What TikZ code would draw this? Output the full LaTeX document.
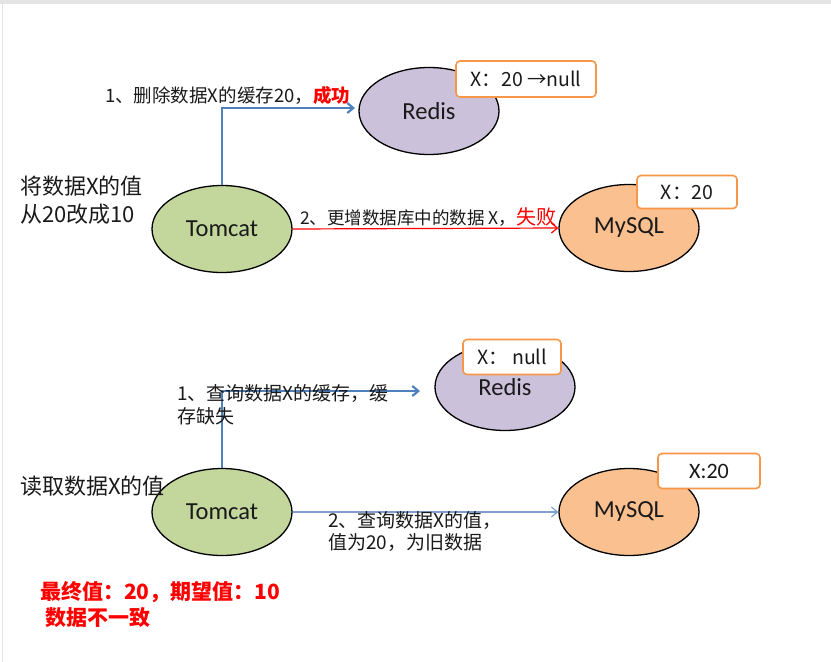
\documentclass[tikz,border=0pt]{standalone}
\usepackage{fontspec}
\setmainfont{Noto Sans CJK SC}
\newfontfamily\lat{Carlito}
\usetikzlibrary{arrows.meta,shapes.geometric}
\definecolor{tomfill}{HTML}{C3D69B}
\definecolor{redfill}{HTML}{CCC1DA}
\definecolor{myfill}{HTML}{FAC090}
\definecolor{boxedge}{HTML}{F79646}
\definecolor{arrblue}{HTML}{4F81BD}
\definecolor{lblue}{HTML}{7F9FCF}
\definecolor{topgray}{HTML}{E4E4E4}
\definecolor{txt}{HTML}{1A1A1A}
\tikzset{
  x=1pt,y=-1pt,
  ell/.style={ellipse,draw=black,line width=1.3pt,minimum width=140pt,minimum height=87pt,inner sep=0pt,font=\lat\fontsize{24.5}{26}\selectfont,text=txt},
  valbox/.style={draw=boxedge,line width=1.6pt,rounded corners=4pt,fill=white,inner sep=0pt,font=\fontsize{19.5}{21}\selectfont,text=txt},
  lbl/.style={anchor=base west,inner sep=0pt,text=txt,align=left},
  big/.style={anchor=base west,inner sep=0pt,font=\fontsize{22}{28}\selectfont,text=txt,align=left},
  bluearrow/.style={draw=arrblue,line width=2.2pt,-{Straight Barb[length=6pt,width=10pt]}},
  thinblue/.style={draw=lblue,line width=1.2pt,-{Straight Barb[length=6pt,width=10pt]}},
  redarrow/.style={draw=red,line width=1.2pt,-{Straight Barb[length=6pt,width=10pt]}},
}
\begin{document}
\begin{tikzpicture}
\useasboundingbox (0,0) rectangle (831,662);
\fill[white] (0,0) rectangle (831,662);
\fill[topgray] (0,0) rectangle (831,4);
\draw[topgray,line width=1pt] (2,4) -- (2,662);

% ---------- top scenario ----------
\node[ell,fill=tomfill] (tom1) at (222,229) {Tomcat};
\node[ell,fill=redfill] (redis1) at (429,111) {Redis};
\node[ell,fill=myfill] (my1) at (629,228) {MySQL};
\node[valbox,minimum width=140pt,minimum height=36pt] (b1) at (526,79) {X：20 →null};
\node[valbox,minimum width=100pt,minimum height=33pt] (b2) at (687,192) {X：20};

\coordinate (c1) at (tom1.north |- 0,108);
\draw[bluearrow] (tom1.north) -- (c1) -- (355,108);
\draw[redarrow] (tom1.east) -- (my1.west);

\node[lbl,font=\fontsize{18.5}{22}\selectfont] (l1) at (105,102) {1、删除数据X的缓存20，{\color{red}\bfseries 成功}};
\node[lbl,font=\fontsize{17.5}{22}\selectfont] (l2) at (300,224) {2、更增数据库中的数据 X，{\color{red}\fontsize{20}{22}\selectfont 失败}};
\node[big] (t1) at (20,222) {将数据X的值\\从20改成10};

% ---------- bottom scenario ----------
\node[ell,fill=redfill] (redis2) at (505,387) {Redis};
\node[valbox,minimum width=98pt,minimum height=35pt] (b3) at (512,357) {X：\ null};
\node[ell,fill=tomfill] (tom2) at (222,512) {Tomcat};
\node[ell,fill=myfill] (my2) at (629,512) {MySQL};
\node[valbox,minimum width=102pt,minimum height=35pt,font=\lat\fontsize{22}{24}\selectfont] (b4) at (709,471) {X:20};

\coordinate (c2) at (tom2.north |- 0,391);
\draw[bluearrow] (tom2.north) -- (c2) -- (420,391);
\node[lbl,font=\fontsize{19}{23}\selectfont] (l3) at (177,423) {1、查询数据X的缓存，缓\\存缺失};
\draw[thinblue] (tom2.east) -- (my2.west);
\node[lbl,font=\fontsize{19}{22}\selectfont] (l4) at (328,549) {2、查询数据X的值，\\值为20，为旧数据};
\node[big] (t2) at (20,494) {读取数据X的值};
\node[anchor=base west,inner sep=0pt,font=\bfseries\fontsize{21}{26}\selectfont,text=red,align=left] (fin) at (40,625) {最终值：20，期望值：10\\\hspace*{5pt}数据不一致};
\end{tikzpicture}
\end{document}
